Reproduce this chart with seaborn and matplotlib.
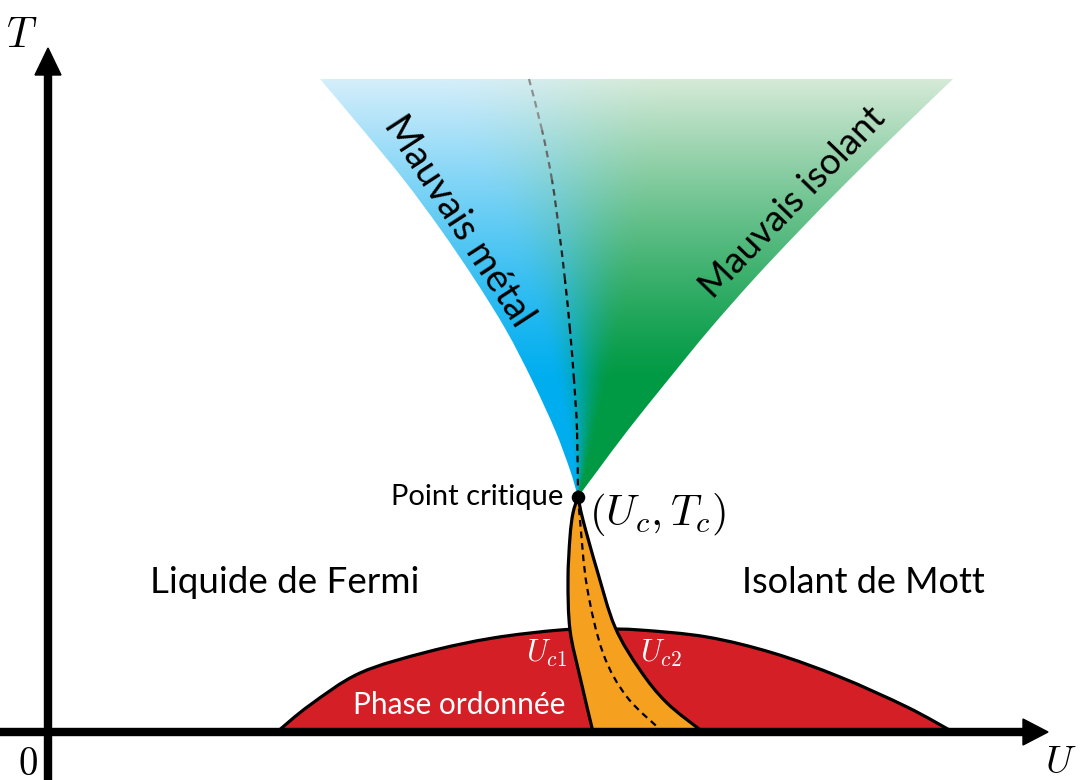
import numpy as np
import matplotlib
matplotlib.use("Agg")
import matplotlib.pyplot as plt
from matplotlib.path import Path
from matplotlib.patches import PathPatch
import seaborn as sns

# Critical end point of the first-order line
crit_U, crit_T = 5.30, 2.35

# Crossover fan above the critical point (left: bad metal, right: bad insulator)
fan_left_U = [5.30, 5.22, 5.07, 4.84, 4.58, 4.27, 3.93, 3.56, 3.15, 2.72]
fan_left_T = [2.35, 2.62, 3.02, 3.52, 4.02, 4.52, 5.02, 5.52, 6.02, 6.53]
fan_right_U = [5.30, 5.50, 5.80, 6.20, 6.61, 7.05, 7.52, 8.01, 8.52, 9.05]
fan_right_T = [2.35, 2.62, 3.02, 3.52, 4.02, 4.52, 5.02, 5.52, 6.02, 6.53]

# Crossover line inside the fan
widom_U = [5.30, 5.29, 5.26, 5.22, 5.17, 5.11, 5.04, 4.94, 4.81]
widom_T = [2.35, 3.02, 3.52, 4.02, 4.52, 5.02, 5.52, 6.02, 6.53]

# Spinodals below T_c and the first-order transition between them
uc1_U = [5.30, 5.25, 5.22, 5.20, 5.22, 5.32, 5.45]
uc1_T = [2.35, 2.19, 1.95, 1.52, 1.02, 0.55, 0.00]
uc2_U = [5.30, 5.35, 5.49, 5.67, 5.92, 6.19, 6.55]
uc2_T = [2.35, 2.12, 1.62, 1.05, 0.62, 0.29, 0.00]
uc_U = [5.30, 5.32, 5.39, 5.55, 5.79, 6.15]
uc_T = [2.35, 2.12, 1.45, 0.79, 0.35, 0.00]

# Ordered phase dome
dome_U = [2.29, 2.62, 3.12, 3.79, 4.45, 5.12, 5.52, 5.92, 6.59, 7.25, 7.92, 8.59, 9.05]
dome_T = [0.00, 0.27, 0.59, 0.80, 0.94, 1.02, 1.03, 1.02, 0.95, 0.79, 0.55, 0.25, 0.00]

# Axis extents
U_max, T_max = 10.00, 6.84

RED = "#d41f26"
ORANGE = "#f5a01e"
BLUE = np.array([0, 174, 239]) / 255
GREEN = np.array([0, 154, 68]) / 255
BLUE_PALE = np.array([232, 244, 252]) / 255
GREEN_PALE = np.array([232, 241, 228]) / 255
DASH = (0, (3.0, 2.2))


def smooth(us, ts):
    """Smooth Bezier path through the given points (Catmull-Rom tangents)."""
    P = np.column_stack([us, ts]).astype(float)
    n = len(P)
    verts, codes = [P[0]], [Path.MOVETO]
    for i in range(n - 1):
        p0 = P[i - 1] if i > 0 else P[i]
        p1, p2 = P[i], P[i + 1]
        p3 = P[i + 2] if i + 2 < n else P[i + 1]
        verts += [p1 + (p2 - p0) / 6, p2 - (p3 - p1) / 6, p2]
        codes += [Path.CURVE4] * 3
    return verts, codes


def joined(*parts):
    """Join several smooth pieces into one closed outline."""
    verts, codes = [], []
    for k, (v, c) in enumerate(parts):
        verts += v
        codes += ([Path.LINETO] + c[1:]) if k else c
    verts.append(verts[0])
    codes.append(Path.CLOSEPOLY)
    return Path(verts, codes)


sns.set_theme(style="white")
plt.rcParams["font.family"] = ["Lato", "DejaVu Sans"]
plt.rcParams["text.color"] = "black"
plt.rcParams["mathtext.fontset"] = "cm"

fig = plt.figure(figsize=(10.8, 7.8), dpi=100)
ax = fig.add_axes([0, 0, 1, 1])
ax.set_xlim(-0.48, 10.32)
ax.set_ylim(-0.48, 7.32)
ax.axis("off")

# ---- gradient-filled crossover fan ----
nU, nT = 900, 600
Ug = np.linspace(2.6, 9.2, nU)
Tg = np.linspace(2.3, 6.6, nT)
UU, TT = np.meshgrid(Ug, Tg)
left = np.interp(Tg, fan_left_T, fan_left_U)[:, None]
right = np.interp(Tg, fan_right_T, fan_right_U)[:, None]
s = np.clip((UU - left) / np.maximum(right - left, 1e-3), 0, 1)
v = np.clip((TT - crit_T) / (fan_left_T[-1] - crit_T), 0, 1)
x = np.clip((s - 0.16) / 0.42, 0, 1)
mix = (x * x * (3 - 2 * x))[..., None]
base = BLUE * (1 - mix) + GREEN * mix
pale = BLUE_PALE * (1 - mix) + GREEN_PALE * mix
w = (np.clip((v - 0.28) / 0.72, 0, 1) ** 1.2 * 0.92)[..., None]
rgb = base * (1 - w) + pale * w
img = ax.imshow(rgb, extent=[Ug[0], Ug[-1], Tg[0], Tg[-1]], origin="lower",
                aspect="auto", interpolation="bilinear", zorder=1)
rv, rc = smooth(fan_right_U[::-1], fan_right_T[::-1])
fan_path = joined(smooth(fan_left_U, fan_left_T), (rv, rc))
fan_patch = PathPatch(fan_path, transform=ax.transData, facecolor="none",
                      edgecolor="none")
img.set_clip_path(fan_patch)

# dashed crossover line, fading to grey at high temperature
wv, wc = smooth(widom_U, widom_T)
for i in range(len(widom_U) - 1):
    seg = Path(wv[3 * i:3 * i + 4],
               [Path.MOVETO, Path.CURVE4, Path.CURVE4, Path.CURVE4])
    tm = 0.5 * (widom_T[i] + widom_T[i + 1])
    g = float(np.clip((tm - 4.3) / 2.2, 0, 1) * 0.62)
    ax.add_patch(PathPatch(seg, fill=False, edgecolor=(g, g, g), lw=1.6,
                           linestyle=DASH, zorder=3))

# ---- ordered phase dome ----
dv, dc = smooth(dome_U, dome_T)
ax.add_patch(PathPatch(joined((dv, dc)), facecolor=RED, edgecolor="none",
                       zorder=2))
ax.add_patch(PathPatch(Path(dv, dc), fill=False, edgecolor="black", lw=2.3,
                       zorder=3))

# ---- coexistence region between U_c1 and U_c2 ----
v1, c1 = smooth(uc1_U, uc1_T)
v2, c2 = smooth(uc2_U[::-1], uc2_T[::-1])
ax.add_patch(PathPatch(joined((v1, c1), (v2, c2)), facecolor=ORANGE,
                       edgecolor="none", zorder=4))
uv, ucodes = smooth(uc_U, uc_T)
ax.add_patch(PathPatch(Path(uv, ucodes), fill=False, edgecolor="black",
                       lw=1.6, linestyle=DASH, zorder=5))
for vv, cc in [(v1, c1), (v2, c2)]:
    ax.add_patch(PathPatch(Path(vv, cc), fill=False, edgecolor="black",
                           lw=2.3, zorder=5))

# ---- axes arrows ----
ax.arrow(-0.48, 0, U_max + 0.48, 0, width=0.07, head_width=0.26,
         head_length=0.25, length_includes_head=True, color="black", zorder=6)
ax.arrow(0, -0.48, 0, T_max + 0.48, width=0.07, head_width=0.26,
         head_length=0.27, length_includes_head=True, color="black", zorder=6)

# critical point
sns.scatterplot(x=[crit_U], y=[crit_T], s=95, color="black", ax=ax,
                zorder=7, linewidth=0)

# ---- labels ----
ax.text(-0.26, 6.85, r"$T$", fontsize=30, ha="center", va="baseline")
ax.text(10.13, -0.41, r"$U$", fontsize=28, ha="center", va="baseline")
ax.text(-0.20, -0.43, r"$0$", fontsize=28, ha="center", va="baseline")

ax.text(2.37, 1.39, "Liquide de Fermi", fontsize=26.5, ha="center", va="baseline")
ax.text(8.15, 1.39, "Isolant de Mott", fontsize=26, ha="center", va="baseline")
ax.text(5.15, 2.27, "Point critique", fontsize=21, ha="right", va="baseline")
ax.text(5.41, 2.07, r"$(U_c, T_c)$", fontsize=31, ha="left", va="baseline")
ax.text(4.11, 0.18, "Phase ordonnée", fontsize=21.5, ha="center",
        va="baseline", color="white", zorder=8)
ax.text(4.99, 0.70, r"$U_{c1}$", fontsize=22, ha="center", va="baseline",
        color="white", zorder=8)
ax.text(6.13, 0.70, r"$U_{c2}$", fontsize=22, ha="center", va="baseline",
        color="white", zorder=8)

ax.text(4.11, 5.11, "Mauvais métal", fontsize=27.5, ha="center", va="center",
        rotation=-57, rotation_mode="anchor", zorder=8)
ax.text(7.45, 5.29, "Mauvais isolant", fontsize=26.5, ha="center", va="center",
        rotation=46, rotation_mode="anchor", zorder=8)

fig.savefig("out.png", dpi=100)
